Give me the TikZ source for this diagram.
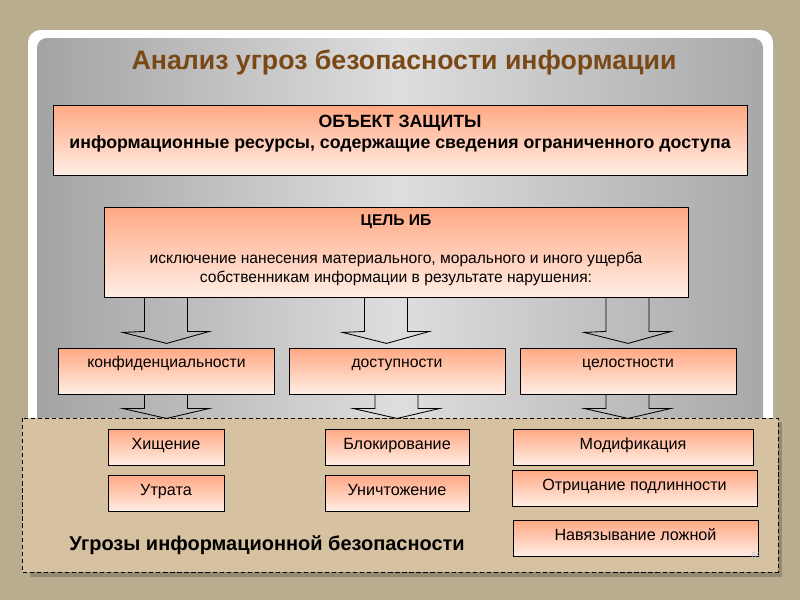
\documentclass[tikz,border=0pt]{standalone}
\usepackage{fontspec}
\setmainfont{Liberation Sans}
\usetikzlibrary{calc}
\definecolor{slidebg}{RGB}{185,173,143}
\definecolor{titlebrown}{RGB}{122,72,20}
\definecolor{boxtop}{RGB}{255,168,132}
\definecolor{boxbottom}{RGB}{255,238,228}
\definecolor{threatbg}{RGB}{214,193,160}
\definecolor{shadowtan}{RGB}{148,139,114}

\begin{document}
\begin{tikzpicture}[x=0.025cm, y=-0.025cm,
    box/.style={draw=black, line width=0.6pt, top color=boxtop, bottom color=boxbottom,
      inner ysep=0pt, inner xsep=2pt},
    tier/.style={box, minimum width=216*\pxl, text height=19*\pxl, text depth=27*\pxl,
      font=\fontsize{11.2}{13.5}\selectfont},
    threat/.style={box, text height=20*\pxl, text depth=16*\pxl,
      font=\fontsize{11.5}{13.5}\selectfont},
    hollow/.style={draw=black, line width=0.6pt, line join=miter},
    panel/.style={draw=black, fill=threatbg, line width=0.6pt, dash pattern=on 3pt off 2pt}]
  % Sizes
  \pgfmathsetmacro{\pxl}{0.025*28.45274}

  % slide
  \useasboundingbox (0,0) rectangle (800,600);
  \fill[slidebg] (0,0) rectangle (800,600);
  \fill[white, rounded corners=9pt] (28,30) rectangle (773,572);
  \shade[left color=black!36, right color=black!34, middle color=black!13,
    rounded corners=7pt] (37,38) rectangle (763,566);

  % title
  \node[font=\fontsize{19}{22}\selectfont\bfseries, text=titlebrown, anchor=base]
    (title) at (404,69) {Анализ угроз безопасности информации};

  % object and goal
  \node[box, minimum width=694*\pxl, minimum height=70*\pxl] (object) at (400,140) {};
  \node[font=\fontsize{12.6}{15}\selectfont\bfseries, align=center] (objtext) at (400,134)
    {ОБЪЕКТ ЗАЩИТЫ\\информационные ресурсы, содержащие сведения ограниченного доступа};
  \node[box, minimum width=584*\pxl, minimum height=90*\pxl] (goal) at (396,252) {};
  \node[font=\fontsize{11.1}{13.5}\selectfont, align=center] (goaltext) at (396,250)
    {\textbf{ЦЕЛЬ ИБ}\\[13.5pt]исключение нанесения материального, морального и иного ущерба\\
     собственникам информации в результате нарушения:};

  % properties
  \node[tier] (conf) at (166.5,371) {конфиденциальности};
  \node[tier] (avail) at (397,371) {доступности};
  \node[tier] (integr) at (628,371) {целостности};

  % threats
  \fill[shadowtan] (30,422) rectangle (782,577);
  \draw[panel] (22,418) rectangle (778,572);
  \node[threat, minimum width=116*\pxl] (theft) at (166,447) {Хищение};
  \node[threat, minimum width=116*\pxl] (loss) at (166,493.5) {Утрата};
  \node[threat, minimum width=144*\pxl] (block) at (397,447) {Блокирование};
  \node[threat, minimum width=144*\pxl] (destroy) at (397,493.5) {Уничтожение};
  \node[threat, minimum width=240*\pxl] (modify) at (633,447) {Модификация};
  \node[threat, minimum width=245*\pxl] (deny) at (634.5,488) {Отрицание подлинности};
  \node[threat, minimum width=245*\pxl] (impose) at (635.5,538) {Навязывание ложной};
  \node[font=\fontsize{14.2}{16}\selectfont\bfseries, anchor=base] (threatlabel) at (267,550)
    {Угрозы информационной безопасности};
  \node[font=\fontsize{6}{7}\selectfont, text=black!28, anchor=base] (pagenum) at (756,558) {69};

  % arrows
  \foreach \tgt/\dx in {conf/0, avail/-10.5, integr/0}{
    \coordinate (a) at ($(goal.south -| \tgt)+(\dx,0)$);
    \draw[hollow, shift={(a)}] (-22,0) -- (-22,34) -- (-44,35) -- (0,46) -- (43,34) -- (21,34) -- (21,0);
  }
  \foreach \tgt in {conf, avail, integr}
    \draw[hollow, shift={(\tgt.south)}] (-22,0) -- (-22,14) -- (-44,14) -- (0,24) -- (43,14) -- (21,14) -- (21,0);
\end{tikzpicture}
\end{document}
